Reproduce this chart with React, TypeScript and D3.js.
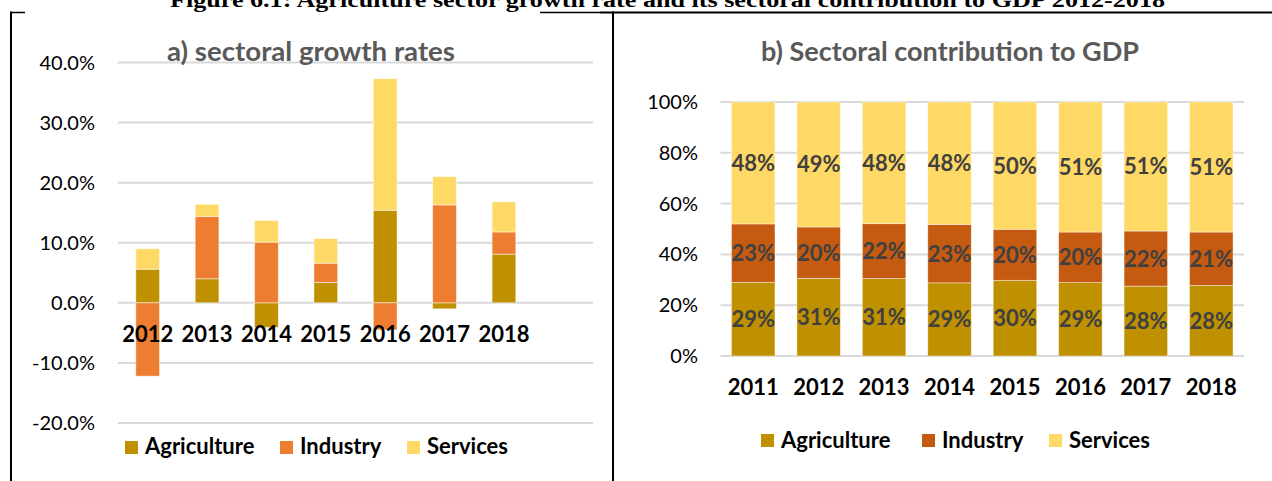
import React from "react";
import * as d3 from "d3";

// ---------- Data ----------
const sectors = ["Agriculture", "Industry", "Services"];

// (a) sectoral growth rates, percentage-point contributions (stacked)
const growthYears = ["2012", "2013", "2014", "2015", "2016", "2017", "2018"];
const growthAgriculture = [5.6, 4.0, -4.1, 3.4, 15.4, -1.0, 8.1];
const growthIndustry = [-12.2, 10.4, 10.1, 3.2, -4.5, 16.3, 3.7];
const growthServices = [3.4, 2.0, 3.6, 4.1, 21.9, 4.7, 5.0];
const growthTicks = [-20, -10, 0, 10, 20, 30, 40];

// (b) sectoral contribution to GDP (shares, %)
const shareYears = ["2011", "2012", "2013", "2014", "2015", "2016", "2017", "2018"];
const shareAgriculture = [29.0, 30.6, 30.5, 28.8, 29.8, 28.9, 27.5, 27.8];
const shareIndustry = [23.0, 20.2, 21.6, 23.0, 20.1, 19.9, 21.7, 21.0];
const shareServices = [48.0, 49.2, 47.9, 48.2, 50.1, 51.2, 50.8, 51.2];
const shareTicks = [0, 0.2, 0.4, 0.6, 0.8, 1.0];

const colorsA = ["#BF9000", "#ED7D31", "#FFD966"];
const colorsB = ["#BF9000", "#C55A11", "#FFD966"];

const FONT = "Lato, 'Open Sans', sans-serif";
const GRID = "#d9d9d9";

type Row = { year: string; [k: string]: number | string };

const fmtGrowth = (t: number) => t.toFixed(1) + "%";

function GrowthChart() {
  const rows: Row[] = growthYears.map((y, i) => ({
    year: y,
    Agriculture: growthAgriculture[i],
    Industry: growthIndustry[i],
    Services: growthServices[i],
  }));
  const x = d3
    .scaleBand<string>()
    .domain([...growthYears, "_blank"])
    .range([118, 593])
    .paddingInner(0.6)
    .paddingOuter(0.3);
  const y = d3.scaleLinear().domain([-20, 40]).range([423, 62.5]);
  const series = d3
    .stack<Row>()
    .keys(sectors)
    .value((d, k) => d[k] as number)
    .offset(d3.stackOffsetDiverging)(rows);
  const legendX = [125, 280, 407];
  return (
    <g>
      {growthTicks.map((t) => (
        <g key={t}>
          <line x1={118} x2={593} y1={y(t)} y2={y(t)} stroke={GRID} strokeWidth={2} />
          <text x={95} y={y(t)} dy="0.35em" textAnchor="end" fontSize={20} fill="#000" fontFamily={FONT}>
            {fmtGrowth(t)}
          </text>
        </g>
      ))}
      {series.map((s, si) => (
        <g key={s.key}>
          {s.map((d, i) => (
            <rect
              key={i}
              x={x(rows[i].year as string)}
              width={x.bandwidth()}
              y={y(Math.max(d[0], d[1]))}
              height={Math.abs(y(d[0]) - y(d[1]))}
              fill={colorsA[si]}
              stroke="#fff"
              strokeOpacity={0.6}
              strokeWidth={0.8}
            />
          ))}
        </g>
      ))}
      {growthYears.map((yr) => (
        <text key={yr} x={(x(yr) as number) + x.bandwidth() / 2} y={342} textAnchor="middle" fontSize={22} fontWeight="bold" fill="#000" fontFamily={FONT}>
          {yr}
        </text>
      ))}
      <text x={311} y={61} textAnchor="middle" fontSize={26} fontWeight="bold" fill="#595959" fontFamily={FONT} textLength={288} lengthAdjust="spacingAndGlyphs">
        a) sectoral growth rates
      </text>
      {sectors.map((s, i) => (
        <g key={s}>
          <rect x={legendX[i]} y={441} width={13} height={13} fill={colorsA[i]} />
          <text x={legendX[i] + 20} y={454} fontSize={22} fontWeight="bold" fill="#000" fontFamily={FONT}>
            {s}
          </text>
        </g>
      ))}
    </g>
  );
}

function ShareChart() {
  const rows: Row[] = shareYears.map((y, i) => ({
    year: y,
    Agriculture: shareAgriculture[i],
    Industry: shareIndustry[i],
    Services: shareServices[i],
  }));
  const x = d3
    .scaleBand<string>()
    .domain(shareYears)
    .range([720.5, 1244])
    .paddingInner(0.335)
    .paddingOuter(0.1675);
  const y = d3.scaleLinear().domain([0, 1]).range([356, 102]);
  const series = d3
    .stack<Row>()
    .keys(sectors)
    .value((d, k) => d[k] as number)
    .offset(d3.stackOffsetExpand)(rows);
  const legendX = [761, 922, 1049];
  const values = [shareAgriculture, shareIndustry, shareServices];
  return (
    <g>
      {shareTicks.map((t) => (
        <g key={t}>
          <line x1={720.5} x2={1244} y1={y(t)} y2={y(t)} stroke={GRID} strokeWidth={2} />
          <text x={698} y={y(t)} dy="0.35em" textAnchor="end" fontSize={20} fill="#000" fontFamily={FONT}>
            {d3.format(".0%")(t)}
          </text>
        </g>
      ))}
      {series.map((s, si) => (
        <g key={s.key}>
          {s.map((d, i) => (
            <g key={i}>
              <rect
                x={x(rows[i].year as string)}
                width={x.bandwidth()}
                y={y(d[1])}
                height={y(d[0]) - y(d[1])}
                fill={colorsB[si]}
                stroke="#fff"
                strokeOpacity={0.5}
                strokeWidth={0.8}
              />
              <text
                x={(x(rows[i].year as string) as number) + x.bandwidth() / 2}
                y={(y(d[0]) + y(d[1])) / 2}
                dy="0.36em"
                textAnchor="middle"
                fontSize={22}
                fontWeight="bold"
                fill="#404040"
                fontFamily={FONT}
              >
                {Math.round(values[si][i]) + "%"}
              </text>
            </g>
          ))}
        </g>
      ))}
      {shareYears.map((yr) => (
        <text key={yr} x={(x(yr) as number) + x.bandwidth() / 2} y={395} textAnchor="middle" fontSize={22} fontWeight="bold" fill="#000" fontFamily={FONT}>
          {yr}
        </text>
      ))}
      <text x={950} y={61} textAnchor="middle" fontSize={26} fontWeight="bold" fill="#595959" fontFamily={FONT} textLength={378} lengthAdjust="spacingAndGlyphs">
        b) Sectoral contribution to GDP
      </text>
      {sectors.map((s, i) => (
        <g key={s}>
          <rect x={legendX[i]} y={434} width={13} height={13} fill={colorsB[i]} />
          <text x={legendX[i] + 20} y={447.5} fontSize={22} fontWeight="bold" fill="#000" fontFamily={FONT}>
            {s}
          </text>
        </g>
      ))}
    </g>
  );
}

export default function App() {
  return (
    <svg width={1272} height={481} style={{ position: "absolute", left: 0, top: 0, background: "#fff" }}>
      <rect x={0} y={0} width={1272} height={481} fill="#fff" />
      {/* frame */}
      <line x1={10} x2={25} y1={12.5} y2={12.5} stroke="#000" strokeWidth={1.5} />
      <line x1={540} x2={600} y1={12.5} y2={12.5} stroke="#000" strokeWidth={1.3} />
      <line x1={600} x2={1272} y1={12.5} y2={12.5} stroke="#000" strokeWidth={2} />
      <line x1={11} x2={11} y1={11.5} y2={481} stroke="#000" strokeWidth={2} />
      <line x1={613} x2={613} y1={11.5} y2={481} stroke="#000" strokeWidth={2} />
      <text x={667.5} y={7} textAnchor="middle" fontSize={20} fontWeight="bold" fontFamily="'Liberation Serif', 'Times New Roman', serif" textLength={995} lengthAdjust="spacingAndGlyphs">
        Figure 6.1: Agriculture sector growth rate and its sectoral contribution to GDP 2012-2018
      </text>
      <GrowthChart />
      <ShareChart />
    </svg>
  );
}
